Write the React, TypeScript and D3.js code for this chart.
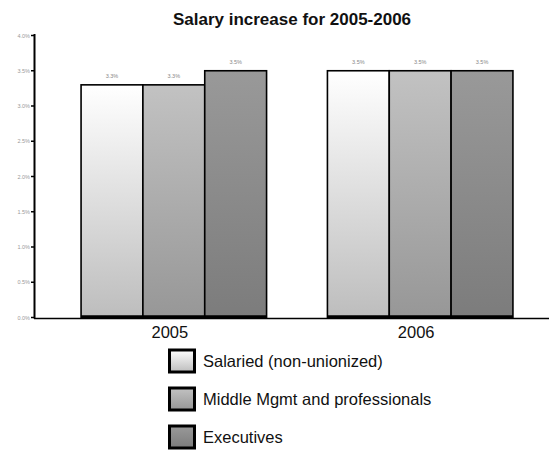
import React from "react";
import * as d3 from "d3";

const years = ["2005", "2006"];
const seriesNames = ["Salaried (non-unionized)", "Middle Mgmt and professionals", "Executives"];
const values2005 = [3.3, 3.3, 3.5];
const values2006 = [3.5, 3.5, 3.5];
const yTicks = [0, 0.5, 1.0, 1.5, 2.0, 2.5, 3.0, 3.5, 4.0];
const gradTop = ["#ffffff", "#c2c2c2", "#999999"];
const gradBottom = ["#bdbdbd", "#979797", "#7c7c7c"];

const W = 551;
const H = 451;
const FONT = "'Liberation Sans', Arial, Helvetica, sans-serif";

export default function App() {
  const data = [values2005, values2006];
  const y = d3.scaleLinear().domain([0, 4]).range([317.5, 35.5]);
  const x0 = d3.scaleBand<string>().domain(years).range([35, 559]).paddingInner(0.247).paddingOuter(0.187);
  const x1 = d3.scaleBand<string>().domain(seriesNames).range([0, x0.bandwidth()]);

  return (
    <svg width={W} height={H} style={{ position: "absolute", left: 0, top: 0, background: "#fff" }} fontFamily={FONT}>
      <defs>
        {seriesNames.map((s, i) => (
          <linearGradient key={s} id={`g${i}`} x1="0" y1="0" x2="0" y2="1">
            <stop offset="0" stopColor={gradTop[i]} />
            <stop offset="1" stopColor={gradBottom[i]} />
          </linearGradient>
        ))}
      </defs>
      <rect x={0} y={0} width={W} height={H} fill="#fff" />
      <text x={292} y={25} textAnchor="middle" fontWeight="bold" fontSize={17} fill="#111">
        Salary increase for 2005-2006
      </text>

      {/* y axis */}
      {yTicks.map((t) => (
        <g key={t}>
          <line x1={31} x2={35} y1={y(t)} y2={y(t)} stroke="#000" strokeWidth={1.5} />
          <text x={30} y={y(t) + 2} textAnchor="end" fontSize={5.5} fill="#999">
            {d3.format(".1f")(t) + "%"}
          </text>
        </g>
      ))}
      <line x1={34.5} x2={34.5} y1={34} y2={318.5} stroke="#000" strokeWidth={2} />

      {/* bars */}
      {years.map((yr, gi) => (
        <g key={yr} transform={`translate(${x0(yr)},0)`}>
          {seriesNames.map((s, i) => {
            const v = data[gi][i];
            const bx = x1(s)!;
            const bw = x1.bandwidth();
            return (
              <g key={s}>
                <rect x={bx} y={y(v)} width={bw} height={y(0) - y(v)} fill={`url(#g${i})`} stroke="#000" strokeWidth={1.6} />
                <line x1={bx} x2={bx + bw} y1={y(0) - 1} y2={y(0) - 1} stroke="#000" strokeWidth={2.5} />
                <text x={bx + bw / 2} y={y(v) - 7} textAnchor="middle" fontSize={5.5} fill="#888">
                  {d3.format(".1f")(v) + "%"}
                </text>
              </g>
            );
          })}
          <text x={x0.bandwidth() / 2 - 4} y={338} textAnchor="middle" fontSize={16.5} fill="#111">
            {yr}
          </text>
        </g>
      ))}
      <line x1={34} x2={549} y1={318.5} y2={318.5} stroke="#000" strokeWidth={1.5} />

      {/* legend */}
      {seriesNames.map((s, i) => {
        const cy = 361 + i * 38;
        return (
          <g key={s}>
            <rect x={169.5} y={cy - 11} width={25} height={22} fill={`url(#g${i})`} stroke="#000" strokeWidth={3} />
            <text x={203} y={cy + 6} fontSize={16.5} fill="#111">
              {s}
            </text>
          </g>
        );
      })}
    </svg>
  );
}
